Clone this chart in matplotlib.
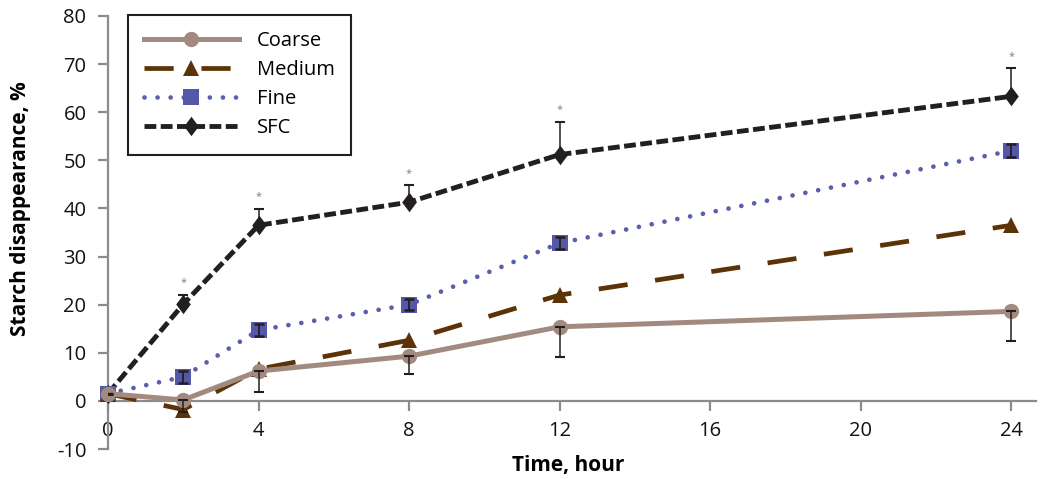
import matplotlib
matplotlib.use('Agg')
import matplotlib.pyplot as plt

plt.rcParams['font.family'] = ['Open Sans', 'DejaVu Sans']
plt.rcParams['lines.scale_dashes'] = False

hours = [0, 2, 4, 8, 12, 24]
coarse = [1.5, 0.2, 6.2, 9.3, 15.4, 18.6]
medium = [1.5, -1.8, 6.6, 12.6, 22.0, 36.5]
fine = [1.5, 5.0, 14.7, 20.0, 32.8, 52.0]
sfc = [1.5, 20.1, 36.5, 41.3, 51.2, 63.3]

coarse_err_low = [0, 2.5, 4.3, 3.7, 6.3, 6.1]
fine_err = [0, 1.3, 1.3, 1.2, 1.3, 1.3]
sfc_err_up = [0, 2.0, 3.4, 3.5, 6.8, 5.8]
star_hours = [2, 4, 8, 12, 24]

x_ticks = [0, 4, 8, 12, 16, 20, 24]
y_ticks = list(range(-10, 81, 10))

gray = '#8c8c8c'
diamond = [(0, 1), (0.75, 0), (0, -1), (-0.75, 0), (0, 1)]

fig = plt.figure(figsize=(10.42, 4.79), dpi=100)
ax = fig.add_axes([0.1036, 0.0626, 0.8904, 0.904])

ax.plot(hours, sfc, color='#231f20', lw=3.5, dashes=(8.5, 3.2),
        marker=diamond, ms=14, mfc='#231f20', mec='#231f20', mew=0,
        label='SFC', clip_on=False, zorder=3)
ax.plot(hours, fine, color='#5a5fad', lw=3.4, dashes=(0.01, 9.4),
        dash_capstyle='round', marker='s', ms=11, mfc='#5558a8', mew=0,
        label='Fine', clip_on=False, zorder=3)
ax.plot(hours, medium, color='#5c3306', lw=3.4, dashes=(21, 20),
        marker='^', ms=11, mfc='#5c3306', mew=0, label='Medium',
        clip_on=False, zorder=4)
ax.plot(hours, coarse, color='#a38a80', lw=3.6, marker='o', ms=11,
        mfc='#a38a80', mew=0, label='Coarse', clip_on=False, zorder=5)

ax.errorbar(hours, coarse, yerr=[coarse_err_low, [0] * 6], fmt='none',
            ecolor='#231f20', elinewidth=1.1, capsize=3.3, capthick=1.5,
            zorder=6)
ax.errorbar(hours, fine, yerr=[fine_err, fine_err], fmt='none',
            ecolor='#231f20', elinewidth=1.3, capsize=3.3, capthick=1.8,
            zorder=6)
ax.errorbar(hours, sfc, yerr=[[0] * 6, sfc_err_up], fmt='none',
            ecolor='#231f20', elinewidth=1.1, capsize=3.3, capthick=1.5,
            zorder=6)

for h in star_hours:
    i = hours.index(h)
    ax.text(h, sfc[i] + sfc_err_up[i] + 1.4, '*', ha='center', va='bottom',
            fontsize=8, color='#7a7a7a')

ax.set_xlim(0, 24.65)
ax.set_ylim(-10, 80)
ax.set_xticks(x_ticks)
ax.set_yticks(y_ticks)
ax.set_yticklabels([str(v) for v in y_ticks])

ax.spines['top'].set_visible(False)
ax.spines['right'].set_visible(False)
ax.spines['bottom'].set_position(('data', 0))
for s in ['left', 'bottom']:
    ax.spines[s].set_color(gray)
    ax.spines[s].set_linewidth(1.6)
ax.tick_params(axis='both', colors=gray, width=1.6, length=7.5,
               labelsize=14.5, labelcolor='#111111')
ax.tick_params(axis='x', pad=7)
ax.tick_params(axis='y', pad=8)

ax.set_xlabel('Time, hour', fontsize=15, fontweight='bold')
ax.xaxis.set_label_coords(0.496, -0.014)
ax.set_ylabel('Starch disappearance, %', fontsize=15, fontweight='bold')
ax.yaxis.set_label_coords(-0.083, 0.554)

handles, labels = ax.get_legend_handles_labels()
order = [3, 2, 1, 0]
leg = ax.legend([handles[i] for i in order], [labels[i] for i in order],
                loc='upper left', bbox_to_anchor=(0.0216, 1.002),
                fontsize=14.5, handlelength=4.7, handletextpad=0.9,
                labelspacing=0.45, borderpad=0.8, fancybox=False,
                framealpha=1, borderaxespad=0)
leg.get_frame().set_edgecolor('#231f20')
leg.get_frame().set_linewidth(1.5)

fig.savefig('out.png', dpi=100)
